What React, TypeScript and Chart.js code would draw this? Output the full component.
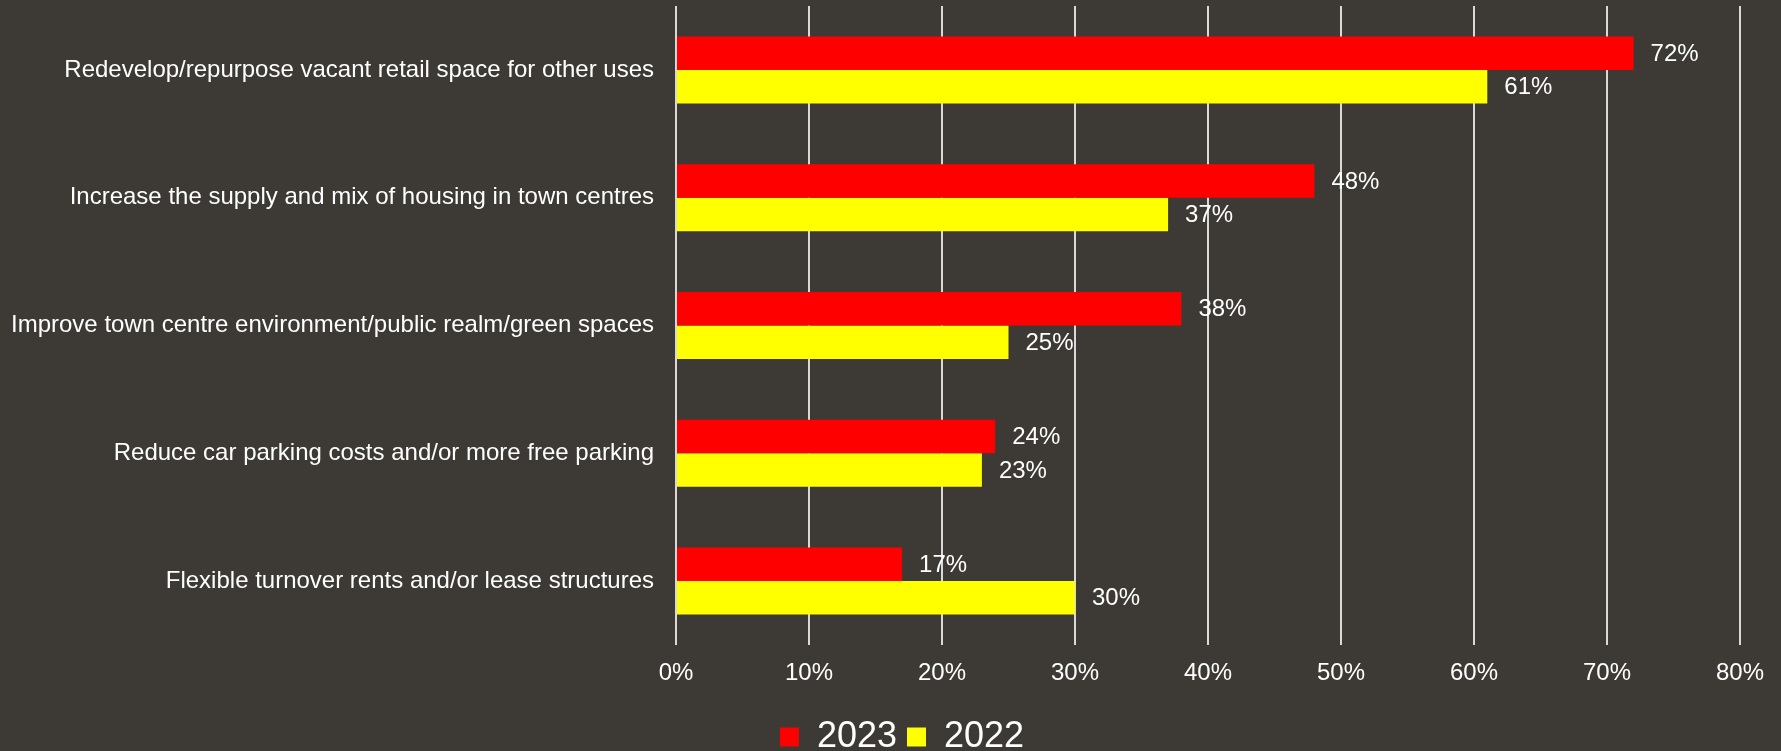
import React, { useEffect, useRef } from "react";
import { Chart, registerables } from "chart.js";

Chart.register(...registerables);

const categories = [
  "Redevelop/repurpose vacant retail space for other uses",
  "Increase the supply and mix of housing in town centres",
  "Improve town centre environment/public realm/green spaces",
  "Reduce car parking costs and/or more free parking",
  "Flexible turnover rents and/or lease structures",
];
const seriesNames = ["2023", "2022"];
const values2023 = [72, 48, 38, 24, 17];
const values2022 = [61, 37, 25, 23, 30];
const axisMin = 0;
const axisMax = 80;
const axisStep = 10;

const BG = "#3D3934";
const FONT = "'Liberation Sans', Arial, sans-serif";

const dataLabels = {
  id: "dataLabels",
  afterDatasetsDraw(chart: any) {
    const ctx = chart.ctx;
    ctx.save();
    ctx.font = `24px ${FONT}`;
    ctx.fillStyle = "#FFFFFF";
    ctx.textAlign = "left";
    ctx.textBaseline = "middle";
    chart.data.datasets.forEach((ds: any, i: number) => {
      const meta = chart.getDatasetMeta(i);
      meta.data.forEach((el: any, j: number) => {
        ctx.fillText(`${ds.data[j]}%`, el.x + 17, el.y + 1);
      });
    });
    ctx.restore();
  },
};

export default function App() {
  const ref = useRef<HTMLCanvasElement | null>(null);

  useEffect(() => {
    document.body.style.margin = "0";
    document.body.style.overflow = "hidden";
    document.body.style.background = BG;
    if (!ref.current) return;
    const chart = new Chart(ref.current, {
      type: "bar",
      data: {
        labels: categories,
        datasets: [
          {
            label: seriesNames[0],
            data: values2023,
            backgroundColor: "#FF0000",
            borderWidth: 0,
            categoryPercentage: 0.524,
            barPercentage: 1,
          },
          {
            label: seriesNames[1],
            data: values2022,
            backgroundColor: "#FFFF00",
            borderWidth: 0,
            categoryPercentage: 0.524,
            barPercentage: 1,
          },
        ],
      },
      options: {
        indexAxis: "y",
        responsive: false,
        animation: false,
        layout: { padding: { top: 6, right: -23, left: 0, bottom: 0 } },
        scales: {
          x: {
            min: axisMin,
            max: axisMax,
            ticks: {
              stepSize: axisStep,
              callback: (v: any) => `${v}%`,
              color: "#FFFFFF",
              font: { family: FONT, size: 24 },
              padding: 14,
            },
            grid: { color: "#D9D9D9", lineWidth: 2, drawTicks: false },
            border: { display: false },
            afterFit: (s: any) => {
              s.height = 64;
              s.paddingLeft = 0;
              s.paddingRight = 41;
            },
          },
          y: {
            ticks: {
              color: "#FFFFFF",
              font: { family: FONT, size: 24 },
              padding: 22,
            },
            grid: { display: false, drawTicks: false },
            border: { display: false },
            afterFit: (s: any) => {
              s.width = 676;
              s.paddingTop = 0;
              s.paddingBottom = 0;
            },
          },
        },
        plugins: {
          legend: {
            position: "bottom",
            labels: {
              boxWidth: 19,
              boxHeight: 19,
              color: "#FFFFFF",
              font: { family: FONT, size: 36 },
              padding: 10,
            },
          },
          tooltip: { enabled: false },
        },
      } as any,
      plugins: [dataLabels],
    });
    return () => chart.destroy();
  }, []);

  return (
    <div style={{ width: 1781, height: 751, overflow: "hidden", background: BG }}>
      <canvas ref={ref} width={1781} height={765} style={{ display: "block" }} />
    </div>
  );
}
